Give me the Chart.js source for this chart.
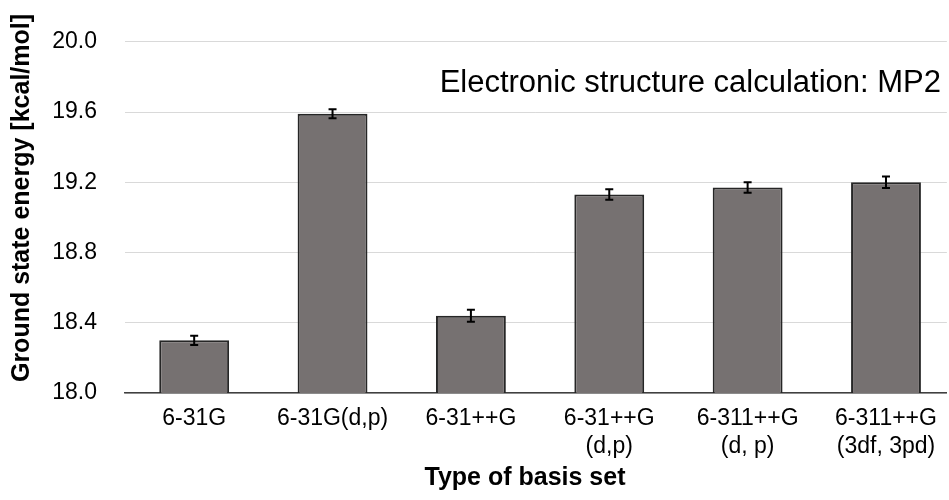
<!DOCTYPE html>
<html>
<head>
<meta charset="utf-8">
<script src="https://cdn.jsdelivr.net/npm/chart.js@4"></script>
<style>
  html, body { margin: 0; padding: 0; background: #ffffff; }
  #wrap { width: 949px; height: 500px; position: relative; }
</style>
</head>
<body>
<div id="wrap"><canvas id="c"></canvas></div>
<script>
// ---- data ----
const categories = [
  ["6-31G"],
  ["6-31G(d,p)"],
  ["6-31++G"],
  ["6-31++G", "(d,p)"],
  ["6-311++G", "(d, p)"],
  ["6-311++G", "(3df, 3pd)"]
];
const energies = [18.30, 19.59, 18.44, 19.13, 19.17, 19.20];
const errors = [0.026, 0.026, 0.034, 0.030, 0.030, 0.033];
const yTicks = [18.0, 18.4, 18.8, 19.2, 19.6, 20.0];
const annotationText = "Electronic structure calculation: MP2";
const xTitle = "Type of basis set";
const yTitle = "Ground state energy [kcal/mol]";

const FONT = "'Liberation Sans', Arial, sans-serif";

const errorBarPlugin = {
  id: 'errorBars',
  afterDatasetsDraw(chart) {
    const ctx = chart.ctx;
    const xs = chart.scales.x, ys = chart.scales.y;
    ctx.save();
    ctx.strokeStyle = '#000000';
    ctx.lineWidth = 2;
    energies.forEach((v, i) => {
      const x = xs.getPixelForValue(i);
      const yt = ys.getPixelForValue(v + errors[i]);
      const yb = ys.getPixelForValue(v - errors[i]);
      const cw = 4;
      ctx.beginPath();
      ctx.moveTo(x, yt); ctx.lineTo(x, yb);
      ctx.moveTo(x - cw, yt); ctx.lineTo(x + cw, yt);
      ctx.moveTo(x - cw, yb); ctx.lineTo(x + cw, yb);
      ctx.stroke();
    });
    ctx.restore();
  }
};

const textPlugin = {
  id: 'extraText',
  afterDraw(chart) {
    const ctx = chart.ctx;
    ctx.save();
    ctx.fillStyle = '#000000';
    // annotation inside the plot
    ctx.font = "31px " + FONT;
    ctx.textAlign = 'right';
    ctx.textBaseline = 'middle';
    ctx.fillText(annotationText, 941, 83);
    // x-axis title
    ctx.font = "bold 25px " + FONT;
    ctx.textAlign = 'center';
    ctx.fillText(xTitle, 525, 478);
    // y-axis title
    ctx.translate(22, 198);
    ctx.rotate(-Math.PI / 2);
    ctx.fillText(yTitle, 0, 0);
    ctx.restore();
  }
};

new Chart(document.getElementById('c'), {
  type: 'bar',
  data: {
    datasets: [{
      data: energies.map((v, i) => ({ x: i, y: v })),
      backgroundColor: '#767171',
      borderColor: '#262626',
      borderWidth: 2,
      barPercentage: 0.505,
      categoryPercentage: 1.0
    }]
  },
  plugins: [errorBarPlugin, textPlugin],
  options: {
    responsive: true,
    maintainAspectRatio: false,
    animation: false,
    layout: { padding: { top: 38, right: 1, left: 0, bottom: 0 } },
    plugins: {
      legend: { display: false },
      tooltip: { enabled: false }
    },
    scales: {
      x: {
        type: 'linear',
        min: -0.5,
        max: 5.44,
        offset: false,
        afterBuildTicks: (axis) => { axis.ticks = categories.map((_, i) => ({ value: i })); },
        afterFit: (scale) => { scale.height = 107; },
        ticks: {
          callback: (v) => categories[v],
          font: { family: FONT, size: 23 },
          color: '#000000',
          padding: 12,
          maxRotation: 0,
          autoSkip: false
        },
        grid: { display: false, drawTicks: false },
        border: { display: true, color: '#404040', width: 1.5 },
        title: { display: false }
      },
      y: {
        min: 18.0,
        max: 20.0,
        afterBuildTicks: (axis) => { axis.ticks = yTicks.map(v => ({ value: v })); },
        afterFit: (scale) => { scale.width = 125; },
        ticks: {
          callback: (v) => Number(v).toFixed(1),
          font: { family: FONT, size: 23 },
          color: '#000000',
          padding: 28
        },
        grid: { color: '#d9d9d9', lineWidth: 1, drawTicks: false },
        border: { display: false },
        title: { display: false }
      }
    }
  }
});
</script>
</body>
</html>
